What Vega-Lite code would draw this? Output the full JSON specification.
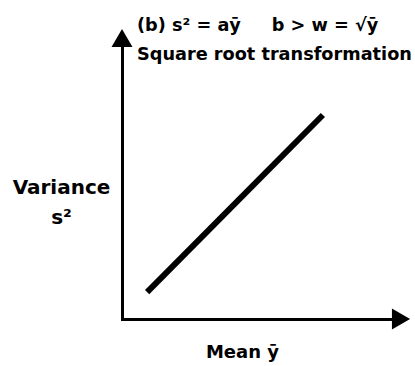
{
  "$schema": "https://vega.github.io/schema/vega-lite/v6.json",
  "autosize": {"type": "none"},
  "width": 279,
  "height": 281,
  "padding": {"left": 122, "top": 38, "right": 14, "bottom": 47},
  "background": "white",
  "config": {
    "view": {"stroke": null},
    "font": "DejaVu Sans"
  },
  "title": {
    "text": ["(b) s² = aȳ\u00a0\u00a0\u00a0\u00a0\u00a0b > w = √ȳ", "Square root transformation"],
    "anchor": "start",
    "frame": "group",
    "orient": "top",
    "offset": 0,
    "baseline": "alphabetic",
    "dx": 15,
    "dy": 49,
    "lineHeight": 29,
    "font": "DejaVu Sans",
    "fontSize": 17.7,
    "fontWeight": "bold",
    "color": "black"
  },
  "datasets": {
    "line": [
      {"mean": 0.9, "variance": 0.96},
      {"mean": 7.2, "variance": 7.26}
    ],
    "xarrow": [{"mean": 10, "variance": 0}],
    "yarrow": [{"mean": 0, "variance": 10}]
  },
  "layer": [
    {
      "data": {"name": "line"},
      "mark": {"type": "line", "color": "black", "strokeWidth": 6, "strokeCap": "butt"},
      "encoding": {
        "x": {
          "field": "mean",
          "type": "quantitative",
          "scale": {"domain": [0, 10], "nice": false},
          "axis": {
            "title": "Mean ȳ",
            "titleFont": "DejaVu Sans",
            "titleFontSize": 18,
            "titleFontWeight": "bold",
            "titleColor": "black",
            "titleAnchor": "start",
            "titleAlign": "center",
            "titleBaseline": "alphabetic",
            "titleX": 120,
            "titleY": 38,
            "labels": false,
            "ticks": false,
            "grid": false,
            "domainColor": "black",
            "domainWidth": 3,
            "domainCap": "square"
          }
        },
        "y": {
          "field": "variance",
          "type": "quantitative",
          "scale": {"domain": [0, 10], "nice": false},
          "axis": {
            "title": ["Variance", "s²"],
            "titleFont": "DejaVu Sans",
            "titleFontSize": 20,
            "titleFontWeight": "bold",
            "titleColor": "black",
            "titleAngle": 0,
            "titleAlign": "center",
            "titleBaseline": "alphabetic",
            "titleLineHeight": 30,
            "titleX": -61,
            "titleY": 155,
            "labels": false,
            "ticks": false,
            "grid": false,
            "domainColor": "black",
            "domainWidth": 3,
            "domainCap": "square"
          }
        }
      }
    },
    {
      "data": {"name": "xarrow"},
      "mark": {"type": "point", "shape": "triangle-right", "filled": true, "color": "black", "size": 441, "opacity": 1},
      "encoding": {
        "x": {"field": "mean", "type": "quantitative"},
        "y": {"field": "variance", "type": "quantitative"}
      }
    },
    {
      "data": {"name": "yarrow"},
      "mark": {"type": "point", "shape": "triangle-up", "filled": true, "color": "black", "size": 441, "opacity": 1},
      "encoding": {
        "x": {"field": "mean", "type": "quantitative"},
        "y": {"field": "variance", "type": "quantitative"}
      }
    }
  ]
}
